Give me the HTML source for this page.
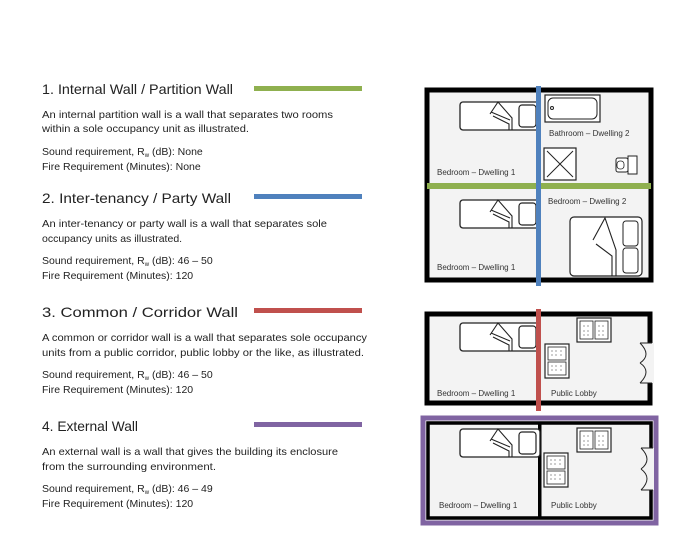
<!DOCTYPE html>
<html><head><style>
html,body{margin:0;padding:0;background:#fff;}
svg{display:block}
text{font-family:"Liberation Sans",sans-serif;fill:#222}
.h{font-size:14px}
.b{font-size:10.5px}
.l{font-size:8px;fill:#333}
</style></head><body>
<svg width="700" height="556" viewBox="0 0 700 556" xmlns="http://www.w3.org/2000/svg">
<defs>
<g id="bed">
 <rect x="0" y="0" width="80" height="28" rx="3" fill="#fff" stroke="#222" stroke-width="1.3"/>
 <rect x="59" y="3" width="17" height="22" rx="3" fill="none" stroke="#222" stroke-width="1.2"/>
 <path d="M30 12 L38 0 L52 16 L52 28 M33 14 L49 22 L49 28 M31 10 L50 18" fill="none" stroke="#222" stroke-width="1.1"/>
</g>
<g id="sofa">
 <rect x="0" y="0" width="34" height="24" fill="#fff" stroke="#222" stroke-width="1.2"/>
 <rect x="3" y="3" width="13" height="18" fill="none" stroke="#222" stroke-width="0.8"/>
 <rect x="18" y="3" width="13" height="18" fill="none" stroke="#222" stroke-width="0.8"/>
 <g fill="#555"><circle cx="7" cy="8" r=".6"/><circle cx="11" cy="8" r=".6"/><circle cx="7" cy="13" r=".6"/><circle cx="11" cy="13" r=".6"/><circle cx="7" cy="17" r=".6"/><circle cx="11" cy="17" r=".6"/><circle cx="22" cy="8" r=".6"/><circle cx="26" cy="8" r=".6"/><circle cx="22" cy="13" r=".6"/><circle cx="26" cy="13" r=".6"/><circle cx="22" cy="17" r=".6"/><circle cx="26" cy="17" r=".6"/></g>
</g>
</defs>

<text class="h" x="42" y="94" textLength="191" lengthAdjust="spacingAndGlyphs">1. Internal Wall / Partition Wall</text>
<rect x="254" y="86" width="108" height="5" fill="#8fb04f"/>
<text class="b" x="42" y="118" textLength="291" lengthAdjust="spacingAndGlyphs">An internal partition wall is a wall that separates two rooms</text>
<text class="b" x="42" y="132" textLength="207" lengthAdjust="spacingAndGlyphs">within a sole occupancy unit as illustrated.</text>
<text class="b" x="42" y="155">Sound requirement, R<tspan font-size="6" dy="2">w</tspan><tspan dy="-2"> (dB): None</tspan></text>
<text class="b" x="42" y="170">Fire Requirement (Minutes): None</text>

<text class="h" x="42" y="203" textLength="189" lengthAdjust="spacingAndGlyphs">2. Inter-tenancy / Party Wall</text>
<rect x="254" y="194" width="108" height="5" fill="#4f81bd"/>
<text class="b" x="42" y="227" textLength="285" lengthAdjust="spacingAndGlyphs">An inter-tenancy or party wall is a wall that separates sole</text>
<text class="b" x="42" y="242">occupancy  units as illustrated.</text>
<text class="b" x="42" y="264">Sound requirement, R<tspan font-size="6" dy="2">w</tspan><tspan dy="-2"> (dB): 46 – 50</tspan></text>
<text class="b" x="42" y="279">Fire Requirement (Minutes): 120</text>

<text class="h" x="42" y="317" textLength="196" lengthAdjust="spacingAndGlyphs">3. Common / Corridor Wall</text>
<rect x="254" y="308" width="108" height="5" fill="#c0504d"/>
<text class="b" x="42" y="341" textLength="325" lengthAdjust="spacingAndGlyphs">A common or corridor wall is a wall that separates sole occupancy</text>
<text class="b" x="42" y="356" textLength="322" lengthAdjust="spacingAndGlyphs">units from a public corridor, public lobby or the like, as illustrated.</text>
<text class="b" x="42" y="378">Sound requirement, R<tspan font-size="6" dy="2">w</tspan><tspan dy="-2"> (dB): 46 – 50</tspan></text>
<text class="b" x="42" y="393">Fire Requirement (Minutes): 120</text>

<text class="h" x="42" y="431" textLength="96" lengthAdjust="spacingAndGlyphs">4. External Wall</text>
<rect x="254" y="422" width="108" height="5" fill="#8064a2"/>
<text class="b" x="42" y="455" textLength="296" lengthAdjust="spacingAndGlyphs">An external wall is a wall that gives the building its enclosure</text>
<text class="b" x="42" y="470" textLength="174" lengthAdjust="spacingAndGlyphs">from the surrounding environment.</text>
<text class="b" x="42" y="492">Sound requirement, R<tspan font-size="6" dy="2">w</tspan><tspan dy="-2"> (dB): 46 – 49</tspan></text>
<text class="b" x="42" y="507">Fire Requirement (Minutes): 120</text>

<!-- Diagram 1 -->
<rect x="427" y="90" width="224" height="190" fill="#f3f3f3" stroke="#000" stroke-width="5"/>
<use href="#bed" x="460" y="102"/>
<use href="#bed" x="460" y="200"/>
<rect x="545" y="95" width="55" height="27" fill="#fff" stroke="#222" stroke-width="1.2"/>
<rect x="548" y="98" width="49" height="21" rx="5" fill="none" stroke="#222" stroke-width="1"/>
<circle cx="552" cy="108" r="1.5" fill="none" stroke="#222"/>
<text class="l" x="549" y="136">Bathroom – Dwelling 2</text>
<rect x="544" y="148" width="32" height="32" fill="#fff" stroke="#222" stroke-width="1.2"/>
<path d="M547 151 L573 177 M573 151 L547 177" stroke="#222" stroke-width="1"/>
<rect x="616" y="158" width="12" height="14" rx="2" fill="#fff" stroke="#222"/>
<rect x="617" y="161" width="7" height="8" rx="3" fill="none" stroke="#222" stroke-width=".8"/>
<rect x="628" y="156" width="9" height="18" fill="#fff" stroke="#222"/>
<text class="l" x="437" y="175">Bedroom – Dwelling 1</text>
<text class="l" x="548" y="204">Bedroom – Dwelling 2</text>
<rect x="570" y="217" width="72" height="59" rx="4" fill="#fff" stroke="#222" stroke-width="1.2"/>
<rect x="623" y="221" width="15" height="25" rx="3" fill="none" stroke="#222"/>
<rect x="623" y="248" width="15" height="25" rx="3" fill="none" stroke="#222"/>
<path d="M593 240 L605 218 L616 250 L616 276 M596 244 L612 256 L612 276" fill="none" stroke="#222" stroke-width="1.1"/>
<text class="l" x="437" y="270">Bedroom – Dwelling 1</text>
<rect x="427" y="183" width="224" height="6" fill="#8fb04f"/>
<rect x="536" y="86" width="5" height="200" fill="#4f81bd"/>

<!-- Diagram 2 -->
<rect x="427" y="314" width="223" height="89" fill="#f3f3f3" stroke="#000" stroke-width="5"/>
<rect x="646" y="343" width="8" height="40" fill="#f3f3f3"/>
<path d="M652 343 h-12 M652 383 h-12 M640 343 Q652 355 640 363 M640 383 Q652 371 640 363" fill="none" stroke="#222" stroke-width="1"/>
<use href="#bed" x="460" y="323"/>
<use href="#sofa" x="577" y="318"/>
<g transform="translate(545,344) rotate(90) translate(0,-24)"><use href="#sofa"/></g>
<text class="l" x="437" y="396">Bedroom – Dwelling 1</text>
<text class="l" x="551" y="396">Public Lobby</text>
<rect x="536" y="309" width="5" height="102" fill="#c0504d"/>

<!-- Diagram 3 -->
<rect x="423" y="418" width="233" height="105" fill="#f3f3f3" stroke="#8064a2" stroke-width="5"/>
<rect x="428" y="423" width="223" height="95" fill="none" stroke="#000" stroke-width="3.5"/>
<rect x="538" y="423" width="3.5" height="95" fill="#000"/>
<rect x="646" y="448" width="8" height="42" fill="#f3f3f3"/>
<path d="M653 448 h-12 M653 490 h-12 M641 448 Q653 460 641 469 M641 490 Q653 478 641 469" fill="none" stroke="#222" stroke-width="1"/>
<use href="#bed" x="460" y="429"/>
<use href="#sofa" x="577" y="428"/>
<g transform="translate(544,453) rotate(90) translate(0,-24)"><use href="#sofa"/></g>
<text class="l" x="439" y="508">Bedroom – Dwelling 1</text>
<text class="l" x="551" y="508">Public Lobby</text>
</svg>
</body></html>
